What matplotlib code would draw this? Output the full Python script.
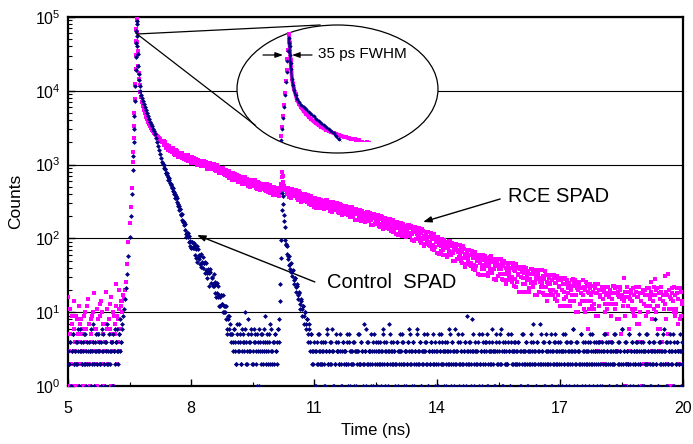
import numpy as np
import matplotlib.pyplot as plt
from matplotlib.patches import Ellipse
from matplotlib.lines import Line2D

plt.rcParams['font.family'] = ['Liberation Sans', 'DejaVu Sans']
plt.rcParams['mathtext.default'] = 'regular'

# histogram bin width (ns); two interleaved bin sets, the second offset by dt/2
dt = 0.025

# ---- counts before the pulse
rce_pre = [16, 1, 5, 2, 9, 1, 6, 3, 2, 8, 1, 4, 7, 2, 5, 1, 9, 3, 6, 12,     # from 5.000 ns
           2, 1, 8, 4, 10, 2, 6, 1, 11, 5, 3, 9, 14, 2, 7, 1, 4, 19, 6, 2,
           8, 13, 1, 5, 10, 3, 7, 24, 9, 4, 11, 6, 12]
rce_pre_b = [3, 11, 2, 7, 1, 14, 4, 9, 1, 5, 12, 2, 8, 3, 6, 1, 10, 4, 2, 15,  # from 5.0125 ns
             7, 1, 5, 9, 3, 18, 2, 6, 1, 8, 4, 13, 2, 10, 5, 1, 7, 3, 11, 2,
             6, 16, 4, 1, 9, 5, 12, 2, 8, 20, 3, 14, 10]
ctl_pre = [3, 2, 4, 1, 3, 5, 2, 3, 2, 4, 3, 1, 6, 3, 2, 4, 2, 5, 3, 2,
           4, 3, 1, 3, 7, 2, 4, 3, 2, 5, 3, 2, 4, 6, 3, 2, 1, 4, 2, 3,
           5, 2, 3, 4, 1, 3, 6, 4, 3, 2, 5, 3, 4]
ctl_pre_b = [2, 4, 1, 3, 5, 2, 3, 4, 2, 6, 1, 3, 4, 2, 3, 5, 2, 1, 4, 3,
             2, 3, 6, 2, 4, 1, 3, 5, 2, 3, 4, 2, 1, 3, 5, 2, 4, 3, 7, 2,
             3, 4, 1, 5, 3, 2, 4, 6, 3, 5, 8, 4, 6]

# ---- rising edge + peak (finer sampling)
peak_t = [6.325, 6.35, 6.375, 6.4, 6.425, 6.45, 6.475, 6.5, 6.525, 6.55,
          6.575, 6.585, 6.6, 6.61, 6.62, 6.63, 6.64, 6.65, 6.657, 6.664,
          6.67, 6.675, 6.68, 6.685, 6.69, 6.695, 6.7, 6.71, 6.72, 6.73,
          6.745, 6.76, 6.78, 6.8, 6.825, 6.85, 6.875, 6.9, 6.925, 6.95,
          6.975, 7.0, 7.025, 7.05, 7.075, 7.1, 7.125, 7.15, 7.175, 7.2,
          7.225, 7.25, 7.275, 7.3]
rce_peak = [14, 17, 15, 20, 26, 45, 90, 160, 270, 480,
            1100, 1500, 2300, 3300, 5000, 7800, 12500, 20000, 31000, 47000,
            68000, 95000, 125000, 90000, 63000, 46000, 35000, 22000, 17500, 14500,
            11800, 9500, 8200, 7100, 6200, 5500, 4950, 4470, 4100, 3800,
            3530, 3310, 3120, 2950, 2820, 2690, 2600, 2510, 2430, 2340,
            2260, 2190, 2120, 2040]
ctl_peak = [7, 9, 11, 15, 21, 33, 58, 105, 200, 400,
            850, 1300, 2000, 3000, 4600, 7200, 11500, 19000, 29000, 44000,
            64000, 88000, 110000, 80000, 56000, 41000, 32000, 22000, 17000, 14000,
            11500, 10000, 8900, 7900, 7300, 6600, 6000, 5500, 5000, 4570,
            4200, 3800, 3550, 3310, 3060, 2820, 2560, 2290, 2050, 1780,
            1580, 1380, 1230, 1100]

# ---- RCE SPAD tail
rce_tail1 = [2051, 1834, 1994, 1768, 1776, 1553, 1725, 1585, 1499, 1668,   # from 7.325 ns
             1410, 1520, 1416, 1520, 1279, 1392, 1418, 1292, 1417, 1218,
             1242, 1341, 1150, 1260, 1330, 1145, 1202, 1058, 1218, 1136,
             1213, 1054, 1141, 996, 1170, 1050, 1102, 977, 1040, 1128,
             1054, 945, 1075, 955, 987, 860, 1007, 934, 883, 1013,
             833, 922, 854, 939, 767, 860, 885, 795, 896, 750,
             763, 836, 694, 774, 824, 688, 729, 623, 740, 680,
             735, 620, 683, 580, 701, 616, 654, 565, 610, 672,
             628, 552, 644, 561, 583, 495, 599, 551, 518, 610,
             486, 551, 504, 566, 447, 516, 537, 476, 553, 452,
             466, 521, 423, 484, 526, 430, 463, 390, 480, 438,
             483, 399, 450, 374, 478]
rce_tail1_b = [2073, 1856, 1682, 1852, 1732, 1798, 1524, 1612, 1486, 1503,   # from 7.3375 ns
               1573, 1361, 1572, 1379, 1417, 1282, 1442, 1322, 1241, 1330,
               1196, 1370, 1267, 1178, 1115, 1257, 1182, 1249, 1038, 1174,
               1104, 1203, 1046, 1133, 1088, 1129, 960, 1082, 1004, 1122,
               1082, 972, 885, 1024, 971, 1044, 878, 960, 878, 898,
               957, 810, 973, 838, 875, 780, 906, 821, 765, 832,
               729, 858, 780, 714, 667, 770, 714, 762, 610, 708,
               657, 727, 615, 676, 643, 672, 553, 639, 584, 672,
               647, 571, 511, 609, 571, 623, 510, 569, 515, 530,
               573, 472, 589, 496, 524, 460, 553, 497, 460, 513,
               442, 538, 486, 443, 412, 491, 455, 495, 384, 461,
               426, 483, 400, 453, 470]
rce_echo_t = [10.2, 10.2125, 10.225, 10.2375, 10.25, 10.2625, 10.275, 10.2875, 10.3]
rce_echo = [545, 680, 800, 700, 590, 520, 488, 470, 455]
rce_tail2 = [461, 400, 479, 411, 432, 358, 446, 404, 375, 453, 348, 401, 363, 414, 315, 371, 388, 338, 400, 317,  # from 10.325 ns
             327, 373, 293, 343, 375, 298, 325, 265, 338, 305, 342, 276, 316, 257, 335, 286, 311, 258, 287, 328,
             302, 256, 316, 266, 282, 229, 295, 265, 245, 304, 227, 268, 240, 280, 206, 250, 265, 227, 276, 213,
             221, 257, 197, 237, 263, 204, 226, 180, 238, 211, 240, 188, 220, 173, 235, 196, 215, 174, 197, 228,
             208, 172, 219, 180, 192, 150, 203, 179, 163, 210, 149, 181, 159, 192, 133, 167, 178, 149, 186, 137,
             146, 174, 126, 158, 179, 132, 149, 113, 159, 139, 162, 121, 146, 109, 158, 127, 143, 110, 128, 154,
             138, 109, 146, 115, 125, 91, 135, 115, 103, 140, 92, 117, 100, 125, 79, 106, 115, 91, 121, 82,
             88, 110, 72, 97, 114, 77, 90, 63, 98, 82, 99, 68, 88, 59, 95, 73, 85, 59, 73, 91,
             80, 60, 86, 64, 72, 49, 78, 65, 56, 82, 49, 66, 55, 71, 41, 59, 64, 49, 69, 43,
             47, 62, 38, 54, 65, 42, 51, 33, 56, 46, 58, 38, 51, 32, 57, 42, 50, 34, 43, 56,
             48, 34, 53, 38, 44, 27, 49, 39, 33, 53, 28, 42, 33, 46, 24, 37, 42, 31, 46, 27,
             30, 42, 23, 36, 45, 26, 33, 19, 38, 30, 40, 24, 34, 19, 40, 27, 34, 21, 28, 39,
             33, 22, 37, 25, 29, 17, 33, 26, 22, 37, 18, 28, 22, 32, 14, 25, 29, 20, 32, 17,
             20, 29, 15, 25, 31, 17, 23, 12, 27, 20, 28, 15, 24, 12, 27, 18, 24, 14, 20, 27,
             23, 14, 27, 17, 21, 10, 23, 18, 14, 27, 11, 20, 14, 23, 6, 18, 21, 14, 23, 11,
             13, 21, 9, 18, 24, 12, 17, 4, 20, 15, 21, 10, 17, 5, 22, 13, 18, 9, 15, 23,
             18, 11, 22, 3, 17, 8, 20, 15, 12, 29, 9, 16, 2, 19, 6, 15, 18, 11, 21, 9,
             11, 19, 7, 16, 22, 10, 4, 1, 18, 13, 20, 9, 17, 2, 21, 12, 26, 8, 14, 22,
             17, 10, 21, 12, 3, 6, 19, 14, 11, 31, 8, 17, 5, 20, 1, 15, 18, 11, 22, 9,
             11, 18, 7, 2, 21, 9, 14]
rce_tail2_b = [480, 417, 368, 454, 423, 468, 370, 420, 373, 386, 422, 336, 435, 356, 379, 326, 402, 355, 324, 367,  # from 10.3375 ns
               309, 387, 345, 309, 284, 348, 318, 350, 262, 324, 296, 342, 277, 317, 301, 321, 249, 304, 272, 329,
               314, 270, 234, 297, 276, 310, 239, 277, 243, 255, 282, 219, 294, 236, 255, 216, 275, 240, 218, 251,
               208, 268, 237, 211, 193, 243, 221, 247, 177, 226, 204, 240, 189, 221, 208, 224, 168, 210, 185, 229,
               219, 182, 154, 205, 188, 215, 158, 189, 162, 171, 193, 143, 203, 157, 172, 140, 187, 159, 141, 168,
               135, 184, 159, 137, 123, 163, 146, 166, 112, 150, 134, 162, 122, 147, 137, 149, 105, 139, 120, 154,
               146, 117, 94, 135, 121, 143, 99, 123, 102, 108, 127, 86, 134, 97, 109, 84, 121, 99, 86, 106,
               79, 118, 97, 81, 70, 101, 88, 103, 61, 91, 78, 99, 69, 88, 80, 89, 56, 81, 67, 92,
               86, 66, 50, 78, 69, 84, 53, 70, 55, 60, 73, 46, 78, 54, 61, 45, 69, 55, 46, 59,
               42, 67, 54, 44, 37, 58, 49, 60, 32, 53, 44, 59, 38, 52, 46, 54, 31, 49, 39, 57,
               53, 39, 28, 48, 42, 53, 31, 43, 33, 38, 46, 27, 50, 33, 40, 27, 46, 35, 29, 40,
               26, 46, 37, 28, 22, 40, 32, 41, 19, 35, 29, 41, 24, 35, 31, 36, 19, 33, 25, 39,
               36, 26, 17, 33, 28, 37, 19, 29, 22, 25, 31, 17, 36, 22, 26, 17, 32, 24, 18, 27,
               17, 32, 25, 19, 14, 27, 22, 29, 12, 24, 19, 29, 16, 25, 21, 25, 12, 23, 17, 28,
               26, 17, 10, 24, 20, 26, 13, 21, 14, 17, 22, 10, 26, 14, 19, 11, 24, 17, 12, 19,
               11, 24, 18, 3, 9, 20, 16, 22, 2, 19, 13, 22, 11, 18, 16, 20, 4, 18, 13, 23,
               21, 13, 8, 19, 16, 22, 5, 17, 12, 14, 19, 1, 22, 12, 16, 3, 20, 14, 10, 17,
               9, 22, 16, 4, 7, 18, 14, 20, 2, 17, 12, 21, 10, 17, 15, 19, 3, 17, 11, 28,
               20, 12, 6, 18, 15, 22, 4, 17, 11, 13, 19, 2, 33, 11, 16, 1, 21, 14, 10, 17,
               10, 21, 15, 3, 8, 19, 13]

# ---- Control SPAD
ctl_decay = [1020, 895, 877, 766, 718, 624, 618, 551, 496, 487,   # from 7.325 ns
             403, 401, 351, 348, 278, 274, 254, 214, 212, 169,
             153, 157, 114, 119, 119, 90, 92, 73, 88, 76,
             86, 59, 71, 48, 71, 53, 58, 41, 47, 56,
             47, 34, 47, 34, 36, 23, 35, 29, 24, 33,
             18, 24, 18, 23, 12, 16, 17, 13, 17, 10,
             10, 12, 6, 9, 9, 5, 5]
ctl_decay_b = [993, 871, 772, 761, 685, 654, 558, 536, 475, 443,   # from 7.3375 ns
               429, 352, 373, 308, 292, 244, 247, 209, 180, 174,
               168, 132, 106, 118, 103, 107, 80, 88, 74, 74,
               82, 54, 80, 56, 60, 45, 61, 48, 40, 47,
               48, 37, 29, 39, 34, 38, 25, 30, 23, 23,
               26, 16, 25, 16, 17, 12, 17, 13, 10, 12,
               12, 8, 5, 8, 6, 7, 4]
ctl_floor = [5, 3, 6, 4, 2, 7, 4, 3, 5, 2, 6, 4, 3, 10, 4, 2, 5, 3, 4, 6,   # from 9.0 ns
             2, 4, 5, 3, 1, 4, 6, 3, 2, 5, 4, 3, 9, 2, 4, 3, 5, 2, 6, 3,
             4, 2, 5, 3, 4, 6]
ctl_floor_b = [4, 6, 3, 2, 5, 3, 7, 4, 2, 3, 5, 4, 6, 2, 3, 8, 4, 3, 5, 2,   # from 9.0125 ns
               3, 6, 4, 2, 5, 3, 1, 4, 5, 3, 2, 6, 4, 3, 5, 2, 4, 7, 3, 2,
               4, 5, 3, 2, 6, 4]
ctl_echo = [8, 24, 95, 410, 290, 170, 96, 84, 61, 58, 44, 45, 35, 36, 27, 29,   # from 10.15 ns
            22, 23, 17, 18, 13, 15, 11, 12, 9, 10, 7, 8, 5, 6, 4, 5]
ctl_echo_b = [14, 55, 240, 370, 205, 142, 81, 79, 52, 57, 39, 46, 31, 37, 24, 29,   # from 10.1625 ns
              19, 24, 15, 19, 11, 14, 9, 12, 7, 10, 6, 8, 4, 7, 3, 5]
ctl_floor2 = [3, 2, 4, 1, 3, 2, 5, 3, 2, 4, 2, 3, 1, 4, 3, 6, 2, 3, 2, 4,   # from 10.95 ns
              3, 1, 2, 5, 3, 4, 2, 3, 2, 1, 4, 3, 3, 2, 5, 2, 4, 1, 3, 2,
              2, 4, 3, 1, 3, 5, 2, 2, 4, 3, 2, 7, 3, 1, 4, 2, 3, 3, 5, 2,
              1, 3, 4, 2, 3, 2, 4, 1, 3, 6, 2, 3, 4, 2, 1, 3, 5, 3, 2, 4,
              3, 1, 2, 4, 3, 2, 5, 3, 4, 2, 1, 3, 3, 2, 4, 6, 2, 3, 1, 4,
              2, 3, 5, 2, 3, 4, 1, 2, 3, 3, 4, 2, 5, 1, 3, 2, 4, 3, 2, 3,
              4, 2, 3, 1, 5, 3, 2, 4, 2, 3, 3, 1, 4, 2, 6, 3, 2, 4, 3, 1,
              2, 3, 5, 2, 4, 3, 2, 1, 3, 4, 2, 9, 3, 2, 4, 1, 3, 5, 2, 3,
              2, 3, 4, 1, 2, 3, 5, 2, 3, 4, 3, 1, 2, 4, 3, 2, 6, 3, 1, 3,
              4, 2, 3, 5, 2, 1, 4, 3, 2, 3, 2, 4, 3, 1, 5, 2, 3, 4, 2, 3,
              3, 4, 2, 1, 3, 2, 5, 3, 2, 4, 1, 3, 2, 3, 4, 2, 7, 3, 2, 1,
              4, 3, 2, 5, 3, 2, 4, 1, 3, 2, 3, 4, 2, 5, 1, 3, 2, 4, 3, 2,
              1, 3, 4, 2, 3, 5, 2, 3, 1, 4, 2, 3, 2, 4, 3, 6, 1, 3, 2, 4,
              3, 2, 5, 1, 3, 2, 4, 3, 2, 3, 1, 4, 2, 5, 3, 2, 3, 4, 1, 2,
              4, 2, 3, 1, 3, 5, 2, 4, 3, 2, 1, 3, 4, 2, 3, 2, 5, 3, 1, 4,
              2, 3, 6, 2, 3, 1, 4, 3, 2, 5, 2, 3, 4, 1, 3, 2, 3, 4, 2, 3,
              2, 3, 1, 4, 3, 2, 5, 2, 3, 4, 1, 3, 2, 4, 3, 8, 2, 3, 1, 4,
              2, 3, 5, 3, 2, 4, 1, 2, 3, 4, 3, 2, 5, 1, 3, 2, 4, 3, 2, 3, 1, 4]
ctl_floor2_b = [2, 3, 3, 1, 4, 2, 5, 3, 2, 3, 4, 2, 1, 3, 5, 2, 3, 4, 2, 6,   # from 10.9625 ns
                3, 1, 2, 4, 3, 3, 2, 5, 1, 3, 4, 2, 3, 2, 4, 1, 5, 3, 2, 3,
                4, 1, 3, 2, 3, 5, 2, 4, 3, 1, 2, 3, 6, 2, 4, 3, 2, 1, 3, 4,
                5, 2, 3, 1, 4, 3, 2, 3, 2, 5, 4, 1, 3, 2, 3, 7, 2, 4, 3, 2,
                3, 2, 4, 1, 3, 3, 2, 5, 4, 2, 3, 1, 2, 4, 3, 5, 2, 3, 4, 1,
                3, 2, 6, 3, 2, 4, 1, 3, 2, 5, 3, 4, 2, 1, 3, 2, 4, 3, 5, 2,
                1, 3, 2, 4, 3, 5, 2, 3, 1, 4, 2, 3, 3, 2, 5, 1, 4, 2, 3, 6,
                2, 3, 4, 1, 2, 3, 5, 2, 3, 4, 1, 3, 2, 4, 3, 2, 8, 3, 1, 4,
                3, 2, 5, 2, 3, 1, 4, 3, 2, 4, 5, 1, 3, 2, 3, 4, 2, 3, 1, 5,
                3, 2, 4, 2, 6, 3, 1, 3, 4, 2, 2, 5, 3, 1, 4, 3, 2, 3, 4, 2,
                2, 4, 3, 1, 5, 3, 2, 3, 4, 2, 1, 3, 2, 5, 3, 4, 2, 3, 1, 4,
                2, 3, 7, 2, 3, 4, 1, 2, 5, 3, 2, 4, 3, 1, 3, 2, 4, 5, 2, 3,
                4, 2, 3, 1, 3, 2, 5, 4, 2, 3, 1, 4, 3, 2, 6, 3, 2, 4, 1, 3,
                3, 2, 5, 2, 4, 3, 1, 2, 3, 4, 2, 5, 3, 2, 1, 4, 3, 2, 3, 4,
                3, 1, 4, 2, 3, 5, 2, 3, 4, 1, 2, 3, 4, 2, 5, 3, 1, 3, 2, 4,
                3, 2, 6, 1, 3, 4, 2, 3, 2, 5, 1, 3, 4, 2, 3, 2, 4, 3, 1, 5,
                2, 4, 3, 1, 3, 2, 5, 3, 4, 2, 1, 3, 2, 4, 3, 2, 5, 1, 3, 4,
                2, 3, 2, 6, 3, 1, 4, 2, 3, 5, 2, 3, 1, 4, 3, 2, 4, 3, 2, 5, 3, 2]


def grid(start, counts):
    return start + dt * np.arange(len(counts)), np.array(counts, float)


def join(*parts):
    t = np.concatenate([np.asarray(p[0], float) for p in parts])
    c = np.concatenate([np.asarray(p[1], float) for p in parts])
    return t, c


h = dt / 2
rce_t, rce_c = join(grid(5.0, rce_pre), grid(5.0 + h, rce_pre_b), (peak_t, rce_peak),
                    grid(7.325, rce_tail1), grid(7.325 + h, rce_tail1_b),
                    (rce_echo_t, rce_echo),
                    grid(10.325, rce_tail2), grid(10.325 + h, rce_tail2_b))
ctl_t, ctl_c = join(grid(5.0, ctl_pre), grid(5.0 + h, ctl_pre_b), (peak_t, ctl_peak),
                    grid(7.325, ctl_decay), grid(7.325 + h, ctl_decay_b),
                    grid(9.0, ctl_floor), grid(9.0 + h, ctl_floor_b),
                    grid(10.15, ctl_echo), grid(10.15 + h, ctl_echo_b),
                    grid(10.95, ctl_floor2), grid(10.95 + h, ctl_floor2_b))

MAG = '#ff00ff'
NAVY = '#000080'

W, H = 693, 444
fig = plt.figure(figsize=(W / 100, H / 100), dpi=100)


def fx(px):
    return px / W


def fy(py):
    return 1 - py / H


ax = fig.add_axes([fx(68), fy(386), fx(683) - fx(68), fy(17) - fy(386)])
ax.plot(rce_t, rce_c, ls='none', marker='s', ms=3.0, mew=0, color=MAG, zorder=3)
ax.plot(ctl_t, ctl_c, ls='none', marker='D', ms=2.5, mew=0, color=NAVY, zorder=3.1)
ax.set_yscale('log')
ax.set_xlim(5, 20)
ax.set_ylim(1, 1e5)
ax.set_xticks([5, 8, 11, 14, 17, 20])
ax.set_xticks(np.arange(6.5, 20, 3), minor=True)
ax.set_axisbelow(True)
ax.yaxis.grid(True, which='major', color='black', lw=0.8)
ax.tick_params(which='both', direction='in', top=False, right=False, labelsize=11.5)
ax.tick_params(which='major', length=5, width=1)
ax.tick_params(which='minor', length=3, width=0.8)
ax.tick_params(axis='x', pad=11)
ax.tick_params(axis='y', pad=5.5)
for s in ax.spines.values():
    s.set_linewidth(1.6)

ax.set_xlabel('Time (ns)', fontsize=12)
ax.set_ylabel('Counts', fontsize=12.5)
ax.xaxis.set_label_coords(0.5, -0.1)
ax.yaxis.set_label_coords(-0.073, 0.5)

arrow = dict(arrowstyle='-|>,head_length=0.5,head_width=0.18', color='black', lw=1,
             mutation_scale=10, shrinkA=0, shrinkB=0)
ax.annotate('', xy=(13.66, 167), xytext=(15.54, 342), arrowprops=arrow)
ax.text(15.73, 375, 'RCE SPAD', fontsize=14.5, va='center', ha='left')
ax.annotate('', xy=(8.146, 111), xytext=(11.02, 25.7), arrowprops=arrow)
ax.text(11.32, 24.9, 'Control  SPAD', fontsize=14.5, va='center', ha='left')

# zoom ellipse with the peak
fig.add_artist(Ellipse((fx(337.5), fy(89)), 201 / W, 128 / H, transform=fig.transFigure,
                       fc='white', ec='black', lw=0.9, zorder=1))
fig.add_artist(Line2D([fx(137), fx(320)], [fy(34), fy(25)], transform=fig.transFigure,
                      color='black', lw=0.9, zorder=2))
fig.add_artist(Line2D([fx(137), fx(255)], [fy(34), fy(125)], transform=fig.transFigure,
                      color='black', lw=0.9, zorder=2))

ins = fig.add_axes([fx(270), fy(141), fx(370) - fx(270), fy(30) - fy(141)])
ins.set_zorder(5)
ins.patch.set_visible(False)
ins.plot(peak_t[22:], rce_peak[22:], color=MAG, lw=2.8)
ins.plot(rce_t, rce_c, ls='none', marker='s', ms=2.8, mew=0, color=MAG)
ins.plot(peak_t[22:], ctl_peak[22:], color=NAVY, lw=1.5)
ins.plot(ctl_t, ctl_c, ls='none', marker='D', ms=2.2, mew=0, color=NAVY)
ins.set_yscale('log')
ins.set_xlim(6.49, 7.49)
ins.set_ylim(1900, 148000)
ins.axis('off')

small = dict(arrowstyle='-|>,head_length=0.5,head_width=0.18', color='black', lw=0.9,
             mutation_scale=9, shrinkA=0, shrinkB=0)
ins.annotate('', xy=(fx(283), fy(55)), xytext=(fx(263), fy(55)),
             xycoords='figure fraction', textcoords='figure fraction', arrowprops=small)
ins.annotate('', xy=(fx(292), fy(55)), xytext=(fx(312), fy(55)),
             xycoords='figure fraction', textcoords='figure fraction', arrowprops=small)
fig.text(fx(318), fy(54), '35 ps FWHM', fontsize=11, va='center', ha='left', zorder=6)

fig.savefig('out.png', dpi=100)
